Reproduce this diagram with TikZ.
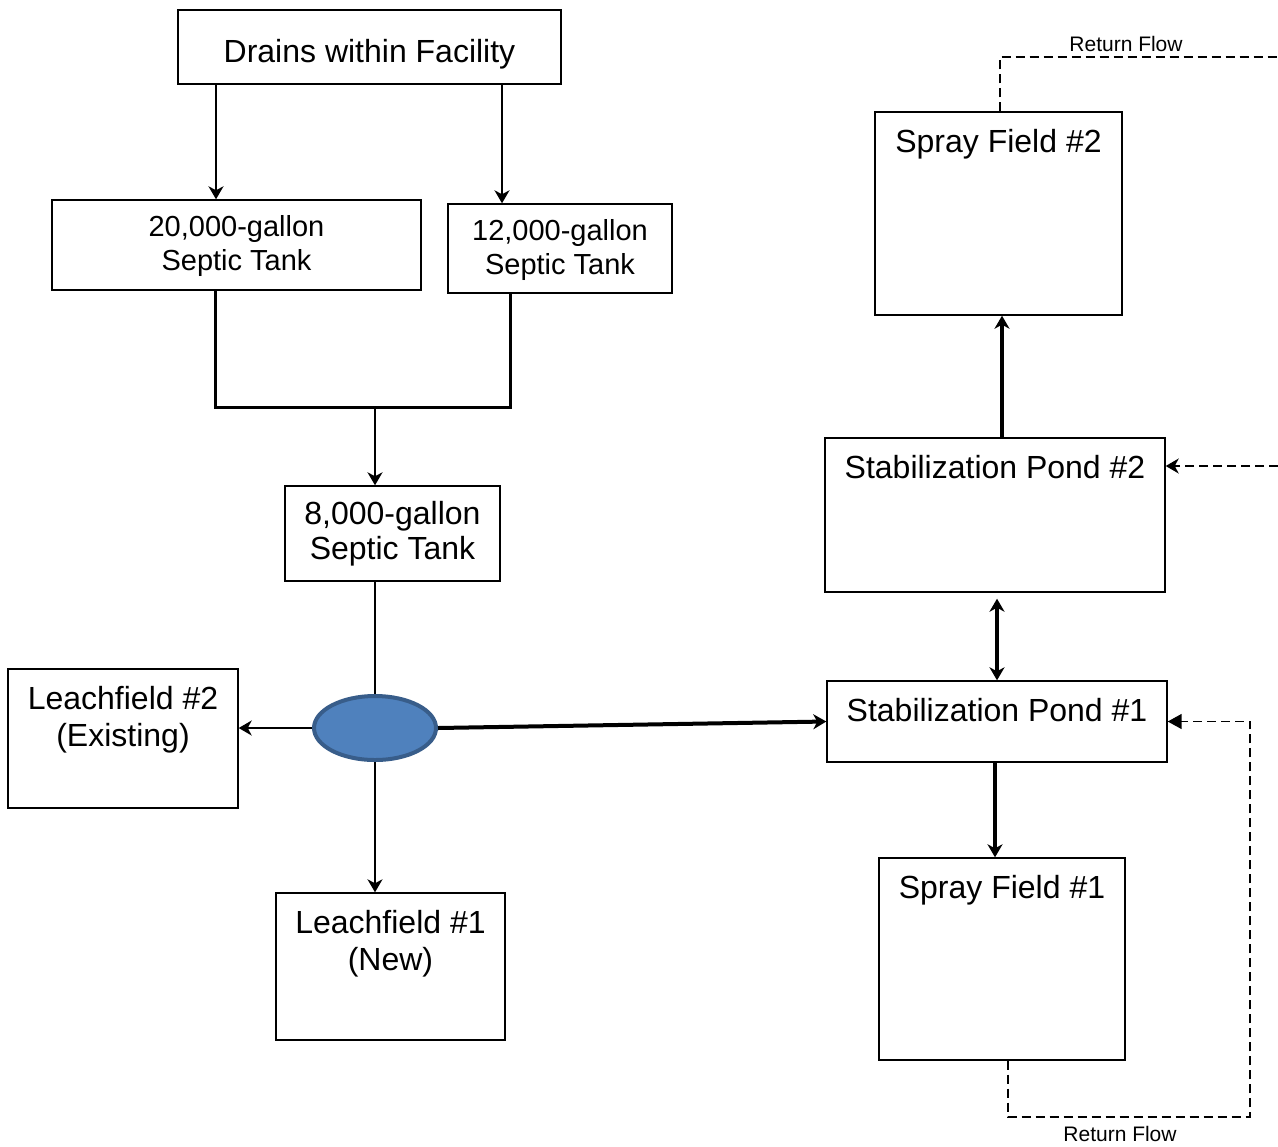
\documentclass[tikz,border=0pt]{standalone}
\usepackage{fontspec}
\setmainfont{Liberation Sans}
\usetikzlibrary{arrows.meta,shapes.geometric}
\definecolor{hubfill}{HTML}{4F81BD}
\definecolor{hubline}{HTML}{385D8A}

\begin{document}
\begin{tikzpicture}[x=0.5pt,y=-0.5pt,>={Stealth[length=6.5pt,width=7.5pt,inset=2pt]},
  box/.style={draw,line width=0.7pt,inner sep=0pt,align=center},
  big/.style={font=\fontsize{16}{18.5}\selectfont},
  tank/.style={font=\fontsize{14.5}{17}\selectfont},
  toplbl/.style={anchor=north,inner sep=0pt,yshift=-9pt,align=center,big},
  feed/.style={line width=1pt},
  main/.style={line width=2pt},
  ret/.style={line width=0.75pt,dash pattern=on 4.5pt off 2.5pt},
  retlbl/.style={font=\fontsize{10.5}{12}\selectfont,inner sep=0pt}]
\useasboundingbox (0,0) rectangle (1278,1146);
% ---------- left side: drains, septic tanks, leachfields ----------
\node[box,minimum width=191.5pt,minimum height=37pt,label={[toplbl,yshift=-6pt]north:{Drains within Facility}}] (drains) at (369.5,47) {};
\node[box,tank,minimum width=184.5pt,minimum height=45pt,label={[toplbl,tank,yshift=1pt]north:{20,000-gallon\\Septic Tank}}] (tankA) at (236.5,245) {};
\node[box,tank,minimum width=112pt,minimum height=44.5pt,label={[toplbl,tank,yshift=1pt]north:{12,000-gallon\\Septic Tank}}] (tankB) at (560,248.5) {};
\node[box,font=\fontsize{16}{17.5}\selectfont,minimum width=107.5pt,minimum height=47.5pt] (tankC) at (392.5,533.5) {8,000-gallon\\Septic Tank};
\node[box,minimum width=115pt,minimum height=69.5pt,label={[toplbl]north:{Leachfield \#2\\(Existing)}}] (leachB) at (123,738.5) {};
\node[box,minimum width=114.5pt,minimum height=73.5pt,label={[toplbl]north:{Leachfield \#1\\(New)}}] (leachA) at (390.5,966.5) {};
\node[ellipse,draw=hubline,fill=hubfill,line width=2pt,minimum width=61pt,minimum height=32pt,inner sep=0pt] (hub) at (375,728) {};
% ---------- right side: ponds and spray fields ----------
\node[box,minimum width=123.5pt,minimum height=101.5pt,label={[toplbl]north:{Spray Field \#2}}] (sprayB) at (998.5,213.5) {};
\node[box,minimum width=170pt,minimum height=77pt,label={[toplbl]north:{Stabilization Pond \#2}}] (pondB) at (995,515) {};
\node[box,minimum width=170pt,minimum height=40.5pt,label={[toplbl]north:{Stabilization Pond \#1}}] (pondA) at (997,721.5) {};
\node[box,minimum width=123pt,minimum height=101pt,label={[toplbl]north:{Spray Field \#1}}] (sprayA) at (1002,959) {};
\node[retlbl] (rfTop) at (1126,44) {Return Flow};
\node[retlbl] (rfBot) at (1120,1134) {Return Flow};
\coordinate (join) at (375,407);
\coordinate (rTop) at (1278,57);
\coordinate (rMid) at (1278,466);
% ---------- flows ----------
\draw[feed,->] (216,0 |- drains.south) -- (216,0 |- tankA.north);
\draw[feed,->] (502,0 |- drains.south) -- (502,0 |- tankB.north);
\draw[line width=1.5pt] (215,0 |- tankA.south) |- (join) -| (510,0 |- tankB.south);
\draw[feed,->] (join) -- (join |- tankC.north);
\draw[feed] (join |- tankC.south) -- (hub.north);
\draw[feed,->] (hub.west) -- (hub.west -| leachB.east);
\draw[feed,->] (hub.south) -- (hub.south |- leachA.north);
\draw[main,->] (hub.east) -- (pondA.west);
\draw[main,->] (995,0 |- pondA.south) -- (995,0 |- sprayA.north);
\draw[main,<->] (pondA.north) -- ([yshift=-3pt]pondA.north |- pondB.south);
\draw[main,->] (1002,0 |- pondB.north) -- (1002,0 |- sprayB.south);
% ---------- return flows ----------
\draw[ret] (1000,0 |- sprayB.north) |- (rTop);
\draw[ret,->] (rMid) -- (rMid -| pondB.east);
\draw[ret,-{Triangle[length=7pt,width=7.5pt]}] (1008,0 |- sprayA.south) |- (1250,1117) |- (pondA.east);
\end{tikzpicture}
\end{document}
